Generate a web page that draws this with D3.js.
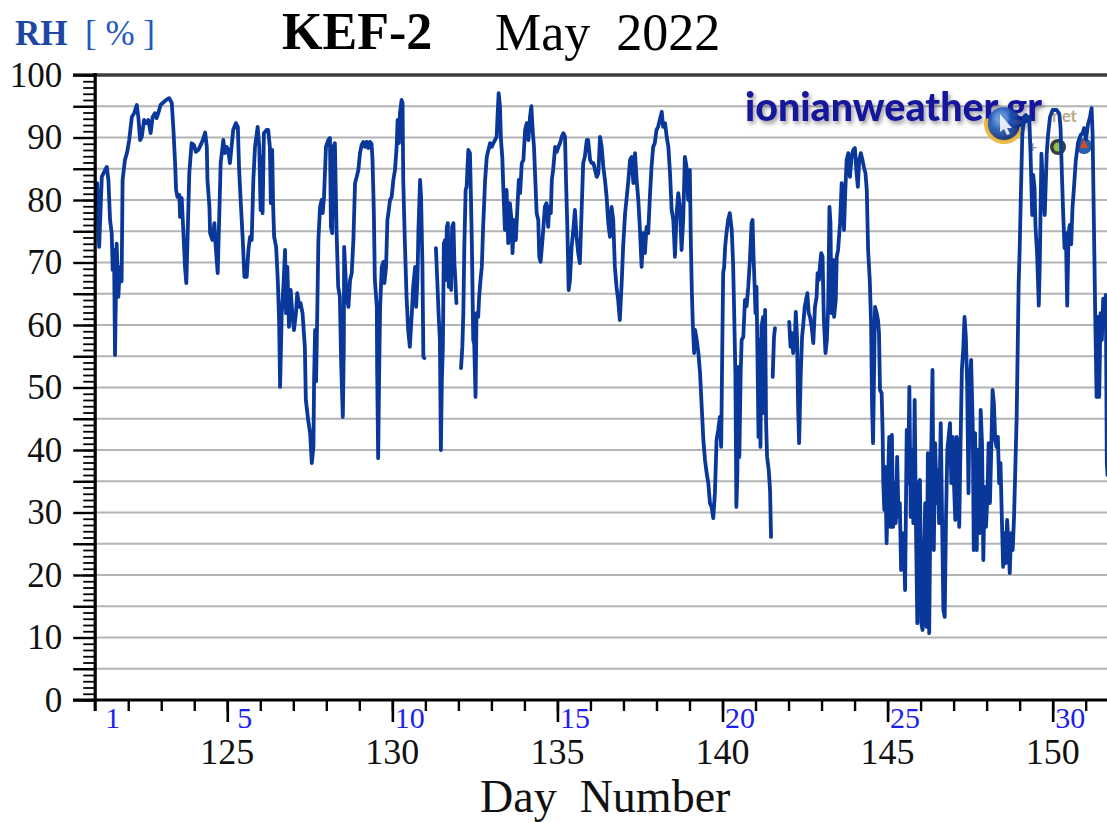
<!DOCTYPE html>
<html>
<head>
<meta charset="utf-8">
<script src="https://cdn.jsdelivr.net/npm/d3@7"></script>
<style>
  html, body { margin: 0; padding: 0; background: #ffffff; overflow: hidden; }
  svg { display: block; }
</style>
</head>
<body>
<svg id="chart" width="1107" height="823"></svg>
<script>
// ---- Station / period ----
const stationName = "KEF-2";
const periodLabel = "May  2022";
const quantityLabel = "RH";
const unitLabel = "[ % ]";
const xTitle = "Day  Number";

// ---- Axis ticks and labels ----
const yLabelValues = [0, 10, 20, 30, 40, 50, 60, 70, 80, 90, 100];
const gridValues = [5, 10, 15, 20, 25, 30, 35, 40, 45, 50, 55, 60, 65, 70, 75, 80, 85, 90, 95];
const dayNumberLabels = [125, 130, 135, 140, 145, 150];
const monthDayTicks = [121, 125, 130, 135, 140, 145, 150];
const monthDayLabels = ["1", "5", "10", "15", "20", "25", "30"];

// ---- Relative humidity readings [day number, RH %], split where data is missing ----
const rhSegmentA = [
  [121.01,82.7],[121.06,82.7],[121.12,72.5],[121.20,83.7],[121.30,84.8],[121.35,85.3],[121.40,83.2],
  [121.45,76.8],[121.50,74.7],[121.53,68.8],[121.57,72.0],[121.60,55.2],[121.65,73.0],[121.70,64.5],
  [121.75,69.3],[121.80,67.0],[121.83,83.2],[121.90,86.4],[121.97,87.7],[122.03,89.6],[122.11,93.3],
  [122.18,93.9],[122.26,95.2],[122.31,93.1],[122.36,89.6],[122.41,90.1],[122.48,92.8],[122.54,92.3],
  [122.61,92.8],[122.68,90.7],[122.74,93.3],[122.81,93.9],[122.86,93.1],[122.91,93.9],[122.98,95.2],
  [123.06,95.6],[123.17,96.1],[123.24,96.3],[123.32,95.5],[123.37,91.2],[123.42,85.9],[123.45,81.6],
  [123.49,80.5],[123.55,80.8],[123.57,77.3],[123.62,80.3],[123.67,75.0],[123.72,69.3],[123.76,66.7],
  [123.79,72.5],[123.85,84.3],[123.92,89.1],[123.99,88.8],[124.05,87.7],[124.12,88.0],[124.17,88.5],
  [124.26,89.6],[124.33,90.8],[124.38,88.5],[124.40,83.2],[124.46,78.9],[124.48,74.7],[124.55,73.6],
  [124.61,76.3],[124.65,72.5],[124.71,68.3],[124.76,77.9],[124.80,85.9],[124.88,89.6],[124.93,87.5],
  [124.98,88.5],[125.03,88.0],[125.08,85.9],[125.13,88.5],[125.18,91.2],[125.26,92.3],[125.32,91.7],
  [125.36,84.8],[125.41,79.5],[125.47,73.6],[125.52,67.7],[125.59,67.7],[125.64,72.0],[125.69,74.1],
  [125.74,73.6],[125.79,83.2],[125.84,88.5],[125.92,91.7],[125.97,88.5],[126.01,78.4],[126.04,86.9],
  [126.07,77.9],[126.11,90.7],[126.19,91.2],[126.24,91.2],[126.29,88.5],[126.32,79.5],[126.36,88.0],
  [126.39,78.9],[126.42,74.1],[126.48,72.5],[126.53,67.2],[126.57,60.8],[126.60,50.1],[126.65,61.9],
  [126.70,66.1],[126.75,72.0],[126.78,61.9],[126.82,69.3],[126.87,59.7],[126.92,65.6],[126.97,61.9],
  [127.02,59.2],[127.08,61.9],[127.12,65.1],[127.18,62.9],[127.22,63.5],[127.28,61.9],[127.35,56.5],
  [127.38,48.0],[127.45,44.8],[127.51,42.7],[127.56,37.9],[127.61,40.5],[127.63,51.2],[127.66,59.2],
  [127.69,51.0],[127.72,60.0],[127.76,73.6],[127.81,78.9],[127.86,80.0],[127.89,77.9],[127.93,80.5],
  [127.99,88.5],[128.06,89.6],[128.11,89.9],[128.14,75.7],[128.18,74.7],[128.21,88.5],[128.26,89.1],
  [128.31,75.2],[128.36,66.1],[128.41,64.5],[128.45,53.9],[128.50,45.3],[128.53,56.5],[128.54,72.5],
  [128.59,67.2],[128.62,64.5],[128.67,62.9],[128.72,67.2],[128.77,68.3],[128.82,73.6],[128.87,82.7],
  [128.92,83.7],[128.97,84.8],[129.02,87.5],[129.07,88.8],[129.12,89.3],[129.17,88.5],[129.22,89.3],
  [129.27,88.3],[129.32,89.3],[129.37,89.0],[129.40,86.4],[129.44,77.9],[129.47,67.2],[129.53,62.9],
  [129.54,52.8],[129.57,38.7],[129.60,52.0],[129.63,62.9],[129.68,69.3],[129.73,70.1],[129.76,66.7],
  [129.81,69.3],[129.85,76.8],[129.88,77.9],[129.93,80.0],[129.98,80.5],[130.03,83.2],[130.08,84.8],
  [130.13,88.5],[130.16,92.8],[130.20,89.1],[130.23,93.9],[130.28,96.0],[130.31,95.5],[130.33,83.2],
  [130.38,73.1],[130.43,64.5],[130.48,59.2],[130.53,56.5],[130.59,61.9],[130.63,66.1],[130.69,69.3],
  [130.72,62.9],[130.76,67.2],[130.79,75.2],[130.84,83.2],[130.87,80.5],[130.91,69.9],[130.94,54.9],
  [130.97,54.7]
];

const rhSegmentB = [
  [131.32,72.3],[131.36,67.2],[131.40,61.9],[131.44,57.6],[131.47,40.0],[131.50,51.2],[131.53,56.5],
  [131.56,73.1],[131.60,73.6],[131.62,67.2],[131.65,75.7],[131.68,76.3],[131.71,66.1],[131.75,69.3],
  [131.78,65.6],[131.81,75.7],[131.85,76.3],[131.88,69.9],[131.91,67.2],[131.94,63.5]
];

const rhSegmentC = [
  [132.08,53.1],[132.12,56.5],[132.15,61.9],[132.18,72.5],[132.22,81.6],[132.25,82.1],[132.30,88.0],
  [132.35,87.5],[132.38,80.5],[132.41,72.5],[132.45,57.6],[132.48,57.0],[132.52,48.5],[132.55,61.9],
  [132.60,61.3],[132.63,64.5],[132.67,67.2],[132.71,69.3],[132.75,75.7],[132.81,83.2],[132.86,86.9],
  [132.91,88.0],[132.96,89.1],[133.01,88.5],[133.06,89.1],[133.11,89.6],[133.16,90.1],[133.19,93.9],
  [133.22,97.1],[133.26,95.0],[133.29,89.6],[133.33,86.9],[133.36,82.1],[133.41,75.2],[133.46,81.6],
  [133.51,73.1],[133.56,79.5],[133.61,76.8],[133.64,71.5],[133.68,76.8],[133.74,73.6],[133.78,77.9],
  [133.83,83.2],[133.87,81.1],[133.92,85.9],[133.97,86.4],[134.02,91.2],[134.07,92.3],[134.12,89.6],
  [134.17,93.3],[134.21,95.0],[134.25,91.2],[134.29,88.5],[134.33,83.2],[134.37,77.9],[134.42,76.8],
  [134.45,70.9],[134.49,70.1],[134.53,72.5],[134.57,75.2],[134.62,78.9],[134.67,79.5],[134.72,75.7],
  [134.75,78.9],[134.80,77.9],[134.83,83.2],[134.87,84.8],[134.93,88.5],[134.98,87.7],[135.03,88.5],
  [135.08,89.1],[135.13,90.1],[135.18,90.7],[135.23,90.1],[135.26,83.2],[135.30,75.7],[135.34,65.6],
  [135.38,67.2],[135.43,72.5],[135.48,75.2],[135.53,78.4],[135.58,74.1],[135.63,71.5],[135.68,69.9],
  [135.73,77.9],[135.78,85.9],[135.83,86.9],[135.89,89.6],[135.93,89.6],[135.99,86.4],[136.04,85.9],
  [136.09,85.9],[136.14,84.8],[136.19,83.7],[136.24,84.3],[136.29,90.1],[136.34,88.5],[136.39,85.3],
  [136.44,83.2],[136.49,80.5],[136.54,76.3],[136.59,74.1],[136.64,78.9],[136.69,76.8],[136.74,69.3],
  [136.79,66.1],[136.84,64.0],[136.89,60.8],[136.95,67.2],[136.99,72.5],[137.05,77.9],[137.10,80.5],
  [137.15,83.2],[137.20,86.4],[137.25,86.9],[137.30,82.7],[137.35,87.5],[137.40,83.2],[137.45,80.0],
  [137.50,75.2],[137.55,69.3],[137.60,74.7],[137.65,71.5],[137.70,75.7],[137.75,74.7],[137.80,80.5],
  [137.85,85.3],[137.90,88.5],[137.95,89.1],[138.00,91.2],[138.05,91.7],[138.10,92.8],[138.16,94.1],
  [138.20,91.7],[138.26,92.3],[138.31,90.1],[138.36,88.5],[138.41,84.3],[138.46,78.4],[138.51,76.8],
  [138.56,70.9],[138.61,77.9],[138.66,81.1],[138.71,78.9],[138.76,72.0],[138.81,76.8],[138.86,86.9],
  [138.91,85.3],[138.96,80.0],[139.01,84.8],[139.04,73.6],[139.07,65.6],[139.10,60.3],[139.14,55.5],
  [139.17,59.2],[139.22,57.6],[139.27,55.5],[139.32,52.3],[139.37,46.9],[139.42,41.6],[139.47,38.4],
  [139.52,36.3],[139.57,34.7],[139.62,31.5],[139.67,30.9],[139.72,29.1],[139.77,33.1],[139.82,41.6],
  [139.87,43.2],[139.92,45.3],[139.96,40.5],[139.99,54.9],[140.02,68.3],[140.05,69.3],[140.08,72.5],
  [140.12,74.7],[140.17,76.8],[140.22,77.9],[140.28,75.2],[140.32,69.9],[140.35,62.9],[140.39,52.3],
  [140.42,30.9],[140.45,36.3],[140.48,53.3],[140.51,38.9],[140.55,52.3],[140.58,57.6],[140.63,58.1],
  [140.68,64.0],[140.73,63.0],[140.78,66.1],[140.83,70.4],[140.88,76.3],[140.91,76.8],[140.94,70.9],
  [140.97,66.7],[141.00,61.9],[141.03,66.1],[141.06,54.9],[141.09,42.1],[141.12,57.6],[141.15,40.5],
  [141.18,59.7],[141.23,61.3],[141.26,45.9],[141.29,62.4],[141.32,44.3],[141.35,38.9],[141.40,36.8],
  [141.44,33.6],[141.47,26.1]
];

const rhSegmentD = [
  [141.52,51.7],[141.56,58.1],[141.59,59.5]
];

const rhSegmentE = [
  [142.02,60.5],[142.06,56.5],[142.10,58.7],[142.14,55.5],[142.19,57.6],[142.22,62.1],[142.26,57.6],
  [142.29,46.9],[142.32,41.1],[142.37,52.3],[142.41,58.1],[142.44,59.7],[142.49,62.9],[142.53,64.0],
  [142.57,65.1],[142.61,61.9],[142.65,61.3],[142.70,59.7],[142.75,57.1],[142.80,62.9],[142.85,64.5],
  [142.88,68.3],[142.92,67.2],[142.95,69.3],[142.99,71.5],[143.03,71.0],[143.07,60.8],[143.12,55.5],
  [143.16,57.6],[143.20,62.9],[143.24,78.9],[143.27,76.3],[143.30,61.9],[143.35,70.4],[143.38,61.3],
  [143.43,64.0],[143.46,70.9],[143.50,72.0],[143.56,76.3],[143.61,82.7],[143.64,78.9],[143.68,75.2],
  [143.72,81.6],[143.76,86.4],[143.81,87.5],[143.86,83.7],[143.91,86.9],[143.96,88.0],[144.01,88.3],
  [144.06,84.3],[144.10,82.1],[144.14,86.4],[144.19,87.5],[144.24,86.4],[144.28,85.3],[144.33,84.3],
  [144.37,81.6],[144.41,72.0],[144.46,67.2],[144.50,60.3],[144.53,46.9],[144.56,41.1],[144.59,52.3],
  [144.62,62.9],[144.67,61.9],[144.71,60.8],[144.74,58.7],[144.77,49.6],[144.82,49.1],[144.85,42.7],
  [144.87,34.7],[144.90,30.4],[144.93,37.3],[144.97,25.1],[145.01,34.7],[145.05,42.1],[145.09,27.7],
  [145.13,42.4],[145.17,27.7],[145.21,34.7],[145.25,28.3],[145.29,38.9],[145.33,29.3],[145.37,31.5],
  [145.41,20.8],[145.46,26.7],[145.49,26.1],[145.53,17.6],[145.58,43.2],[145.62,34.7],[145.66,50.1],
  [145.70,29.3],[145.74,40.0],[145.78,28.3],[145.82,48.0],[145.86,27.7],[145.90,12.3],[145.94,34.7],
  [145.98,35.2],[146.02,12.3],[146.06,11.2],[146.10,22.4],[146.14,31.5],[146.18,11.7],[146.22,39.5],
  [146.26,10.7],[146.30,32.0],[146.36,52.8],[146.40,24.0],[146.44,41.1],[146.49,31.5],[146.52,36.8],
  [146.56,28.3],[146.61,44.3],[146.65,29.3],[146.69,14.4],[146.73,13.3],[146.77,29.3],[146.81,40.0],
  [146.85,42.1],[146.89,44.3],[146.93,34.7],[146.97,42.1],[147.01,34.7],[147.05,28.8],[147.09,42.1],
  [147.13,40.0],[147.17,27.7],[147.21,41.0],[147.25,52.8],[147.29,56.0],[147.33,61.3],[147.37,58.1],
  [147.41,50.7],[147.45,33.1],[147.49,50.7],[147.53,54.4],[147.58,43.7],[147.61,24.0],[147.65,42.7],
  [147.70,24.0],[147.74,40.0],[147.78,26.7],[147.82,46.4],[147.86,41.1],[147.90,22.4],[147.94,34.1],
  [147.98,27.7],[148.02,32.0],[148.06,41.1],[148.10,31.5],[148.14,40.0],[148.18,49.6],[148.22,47.5],
  [148.26,41.6],[148.30,40.5],[148.34,42.1],[148.38,34.7],[148.42,37.9],[148.46,29.3],[148.50,21.3],
  [148.54,26.7],[148.58,21.9],[148.62,28.8],[148.67,24.0],[148.70,20.3],[148.74,26.7],[148.79,24.0],
  [148.83,29.3],[148.87,37.3],[148.91,45.3],[148.94,56.0],[148.97,66.7],[149.00,72.0],[149.04,81.6],
  [149.08,90.4],[149.13,93.3],[149.19,93.6],[149.24,92.6],[149.29,93.3],[149.33,87.4],[149.38,77.6],
  [149.41,84.0],[149.45,82.0],[149.48,75.8],[149.53,71.2],[149.58,63.1],[149.61,70.0],[149.66,87.4],
  [149.71,81.6],[149.76,77.6],[149.82,87.4],[149.86,90.4],[149.92,93.3],[150.00,94.4],[150.12,94.4],
  [150.20,93.8],[150.24,91.5],[150.28,84.0],[150.32,77.6],[150.36,72.3],[150.40,74.7],[150.44,63.1],
  [150.48,74.7],[150.52,76.0],[150.56,72.9],[150.60,78.7],[150.64,81.6],[150.70,86.3],[150.77,89.2],
  [150.85,90.4],[150.91,90.7],[150.95,91.5],[151.01,89.7],[151.07,92.1],[151.13,93.3],[151.18,94.7],
  [151.21,90.4],[151.25,75.8],[151.29,61.3],[151.33,48.5],[151.37,61.3],[151.41,48.5],[151.45,61.9],
  [151.49,57.6],[151.53,64.2],[151.58,61.3],[151.61,64.8],[151.64,38.0],[151.66,36.0]
];

const rhSegments = [rhSegmentA, rhSegmentB, rhSegmentC, rhSegmentD, rhSegmentE];

// ---- Layout ----
const W = 1107, H = 823;
const serif = "'Liberation Serif', 'Times New Roman', Times, serif";
const x = d3.scaleLinear().domain([121, 152]).range([95.2, 1118.7]);
const y = d3.scaleLinear().domain([0, 100]).range([700, 75]);

const svg = d3.select("#chart").attr("viewBox", `0 0 ${W} ${H}`);

const defs = svg.append("defs");
const shadow = defs.append("filter").attr("id", "logoShadow")
  .attr("x", "-10%").attr("y", "-30%").attr("width", "130%").attr("height", "180%");
shadow.append("feDropShadow").attr("dx", 2).attr("dy", 3).attr("stdDeviation", 2)
  .attr("flood-color", "#4a4a4a").attr("flood-opacity", 0.55);
const globeGrad = defs.append("radialGradient").attr("id", "globeGrad")
  .attr("cx", "40%").attr("cy", "35%").attr("r", "70%");
globeGrad.append("stop").attr("offset", "0%").attr("stop-color", "#7fb2f0");
globeGrad.append("stop").attr("offset", "45%").attr("stop-color", "#1f56b8");
globeGrad.append("stop").attr("offset", "100%").attr("stop-color", "#0a1d5e");

// ---- Horizontal grid ----
svg.append("g").selectAll("line").data(gridValues).join("line")
  .attr("x1", x(121)).attr("x2", x(152))
  .attr("y1", d => y(d)).attr("y2", d => y(d))
  .attr("stroke", "#b4b4b4").attr("stroke-width", 1.8);

// top frame line at 100 %
svg.append("line")
  .attr("x1", 73).attr("x2", W).attr("y1", y(100)).attr("y2", y(100))
  .attr("stroke", "#3d3d3d").attr("stroke-width", 3.5);

// ---- Logo ----
const logo = svg.append("g");
logo.append("text")
  .attr("x", 745).attr("y", 121)
  .attr("font-family", "Lato, 'Open Sans', sans-serif")
  .attr("font-weight", 900).attr("font-size", 39)
  .attr("textLength", 297).attr("lengthAdjust", "spacingAndGlyphs")
  .attr("fill", "#15159c").attr("filter", "url(#logoShadow)")
  .text("ionianweather.gr");
logo.append("circle").attr("cx", 1004).attr("cy", 124).attr("r", 17)
  .attr("fill", "url(#globeGrad)").attr("opacity", 0.9);
logo.append("path")
  .attr("d", d3.arc()({ innerRadius: 16, outerRadius: 20, startAngle: Math.PI * 0.55, endAngle: Math.PI * 1.6 }))
  .attr("transform", "translate(1004,124)").attr("fill", "#e9b335").attr("opacity", 0.9);
logo.append("path")
  .attr("d", "M1000,114 L1012,128 L1007,128 L1010,134 L1007,135 L1004,129 L1000,132 Z")
  .attr("fill", "#ffffff").attr("opacity", 0.85);
logo.append("text")
  .attr("x", 1048).attr("y", 122)
  .attr("font-family", "Lato, 'Open Sans', sans-serif").attr("font-weight", 700).attr("font-size", 17)
  .attr("fill", "#b9a98c").text(".net");
logo.append("text")
  .attr("x", 1028).attr("y", 152)
  .attr("font-family", "Lato, sans-serif").attr("font-weight", 700).attr("font-size", 16)
  .attr("fill", "#8a9ab0").text("+");
logo.append("circle").attr("cx", 1058).attr("cy", 147).attr("r", 8).attr("fill", "#3c3c3c");
logo.append("circle").attr("cx", 1058).attr("cy", 147).attr("r", 4.5).attr("fill", "#8bc34a");
logo.append("circle").attr("cx", 1084).attr("cy", 146).attr("r", 8).attr("fill", "#2b5fa8");
logo.append("path").attr("d", "M1084,139 L1088,148 L1080,148 Z").attr("fill", "#d84a2a");

// ---- RH line ----
const rhLine = d3.line()
  .x(d => x(d[0]))
  .y(d => y(d[1]));

svg.append("g").selectAll("path").data(rhSegments).join("path")
  .attr("d", rhLine)
  .attr("fill", "none")
  .attr("stroke", "#0a389a")
  .attr("stroke-width", 3.8)
  .attr("stroke-linejoin", "round")
  .attr("stroke-linecap", "round");

// ---- Y axis ----
const yMinor = d3.axisLeft(y).tickValues(d3.range(0, 101, 1)).tickSize(12).tickFormat("").tickSizeOuter(0);
svg.append("g").attr("transform", `translate(${x(121)},0)`).call(yMinor)
  .call(g => g.select(".domain").remove())
  .call(g => g.selectAll(".tick line").attr("stroke", "#000").attr("stroke-width", 1.8));

const yMajor = d3.axisLeft(y).tickValues(d3.range(0, 101, 5)).tickSize(22).tickPadding(11)
  .tickFormat(d => (yLabelValues.includes(d) ? d : "")).tickSizeOuter(0);
svg.append("g").attr("transform", `translate(${x(121)},0)`).call(yMajor)
  .attr("font-family", serif).attr("font-size", 35)
  .call(g => g.select(".domain").remove())
  .call(g => g.selectAll(".tick line").attr("stroke", "#000").attr("stroke-width", 2.4))
  .call(g => g.selectAll(".tick text").attr("fill", "#111"));

// left spine
svg.append("line")
  .attr("x1", x(121)).attr("x2", x(121)).attr("y1", 73).attr("y2", 711)
  .attr("stroke", "#000").attr("stroke-width", 3.2);

// ---- X axis ----
const xMinor = d3.axisBottom(x).tickValues(d3.range(122, 153, 1)).tickSize(11).tickFormat("").tickSizeOuter(0);
svg.append("g").attr("transform", `translate(0,${y(0)})`).call(xMinor)
  .call(g => g.select(".domain").remove())
  .call(g => g.selectAll(".tick line").attr("stroke", "#000").attr("stroke-width", 2.4));

const xMajor = d3.axisBottom(x).tickValues(dayNumberLabels).tickSize(22).tickFormat("").tickSizeOuter(0);
svg.append("g").attr("transform", `translate(0,${y(0)})`).call(xMajor)
  .call(g => g.select(".domain").remove())
  .call(g => g.selectAll(".tick line").attr("stroke", "#000").attr("stroke-width", 2.6));

// bottom spine
svg.append("line")
  .attr("x1", 73).attr("x2", W).attr("y1", y(0)).attr("y2", y(0))
  .attr("stroke", "#000").attr("stroke-width", 3);

// day-of-month labels (blue), centred on each day
svg.append("g").selectAll("text").data(monthDayTicks).join("text")
  .attr("x", d => x(d + 0.53)).attr("y", 728)
  .attr("text-anchor", "middle")
  .attr("font-family", serif).attr("font-size", 30)
  .attr("fill", "#1e1ef0")
  .text((d, i) => monthDayLabels[i]);

// day-number labels (black)
svg.append("g").selectAll("text").data(dayNumberLabels).join("text")
  .attr("x", d => x(d)).attr("y", 764)
  .attr("text-anchor", "middle")
  .attr("font-family", serif).attr("font-size", 36)
  .attr("fill", "#111")
  .text(d => d);

svg.append("text")
  .attr("x", 480).attr("y", 812)
  .attr("font-family", serif).attr("font-size", 46)
  .attr("fill", "#111").style("white-space", "pre")
  .text(xTitle);

// ---- Titles ----
svg.append("text")
  .attr("x", 282).attr("y", 49)
  .attr("font-family", serif).attr("font-size", 52).attr("font-weight", "bold")
  .attr("fill", "#000").text(stationName);

svg.append("text")
  .attr("x", 495).attr("y", 50)
  .attr("font-family", serif).attr("font-size", 52)
  .attr("fill", "#000").style("white-space", "pre")
  .text(periodLabel);

const qLabel = svg.append("text")
  .attr("x", 15).attr("y", 45)
  .attr("font-family", serif).attr("font-size", 35)
  .style("white-space", "pre");
qLabel.append("tspan").attr("font-weight", "bold").attr("fill", "#1c47a3").text(quantityLabel);
qLabel.append("tspan").attr("fill", "#2457bd").text("  " + unitLabel);
</script>
</body>
</html>
